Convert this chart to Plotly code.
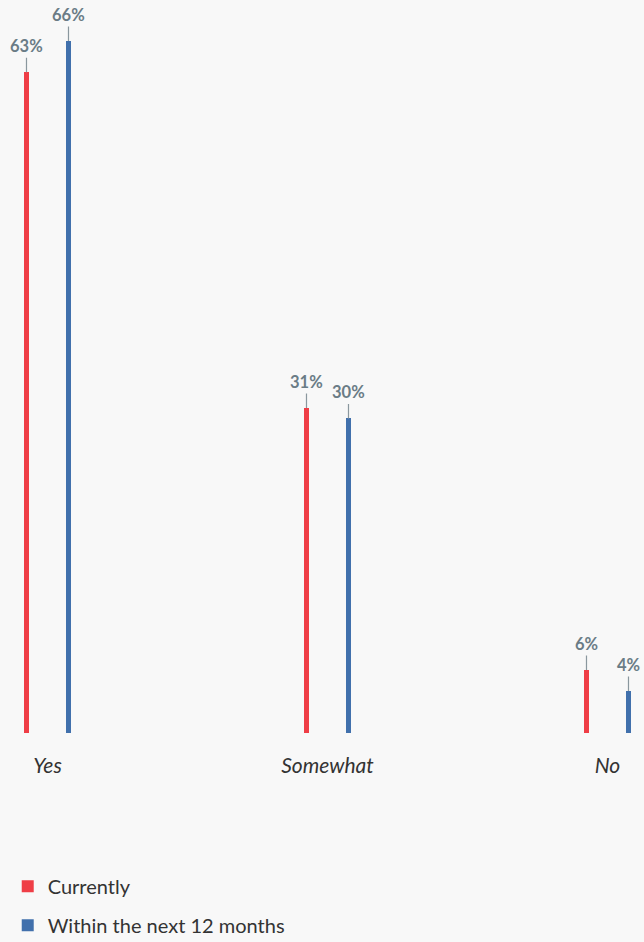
import plotly.graph_objects as go

categories = ["Yes", "Somewhat", "No"]
currently = [63, 31, 6]
next12 = [66, 30, 4]
series_names = ["Currently", "Within the next 12 months"]

RED = "#EF3E46"
BLUE = "#4170AC"
LABEL = "#6A7C86"
BG = "#F8F8F8"

idx = list(range(len(categories)))
off = 0.075
fig = go.Figure()
for vals, name, color, sgn, grp in [(currently, series_names[0], RED, -1, "a"), (next12, series_names[1], BLUE, 1, "b")]:
    xs = [i + sgn * off for i in idx]
    fig.add_trace(go.Bar(x=xs, y=vals, name=name, marker=dict(color=color, line=dict(width=0)),
                         width=5 / 280, legendgroup=grp, hoverinfo="skip"))
    for x, v in zip(xs, vals):
        fig.add_annotation(x=x, y=v, xref="x", yref="y", text=f"<b>{v}%</b>",
                           showarrow=True, arrowhead=0, arrowwidth=1.2, arrowcolor="#8A979E",
                           ax=0, ay=-26, font=dict(size=16.5, color=LABEL, family="Lato"), standoff=0)

fig.update_layout(
    width=644, height=942,
    margin=dict(l=0, r=0, t=0, b=209, autoexpand=False),
    paper_bgcolor=BG, plot_bgcolor=BG,
    bargap=0,
    font=dict(family="Lato", color="#333333"),
    xaxis=dict(range=[-0.1696, -0.1696 + 644 / 280], tickvals=idx,
               ticktext=[f"<i>{c}</i>" for c in categories],
               tickfont=dict(size=21, color="#333333", family="Lato"),
               ticks="outside", ticklen=14, tickcolor="rgba(0,0,0,0)", automargin=False,
               showgrid=False, zeroline=False, showline=False, fixedrange=True),
    yaxis=dict(range=[0, 69.9], visible=False, showgrid=False, zeroline=False),
    legend=dict(orientation="v", x=0.012, xanchor="left", yref="container", y=0.08, yanchor="top",
                font=dict(size=20, color="#333333", family="Lato"),
                tracegroupgap=10, bgcolor="rgba(0,0,0,0)", itemclick=False),
    showlegend=True,
)

fig.write_html("out.html")
